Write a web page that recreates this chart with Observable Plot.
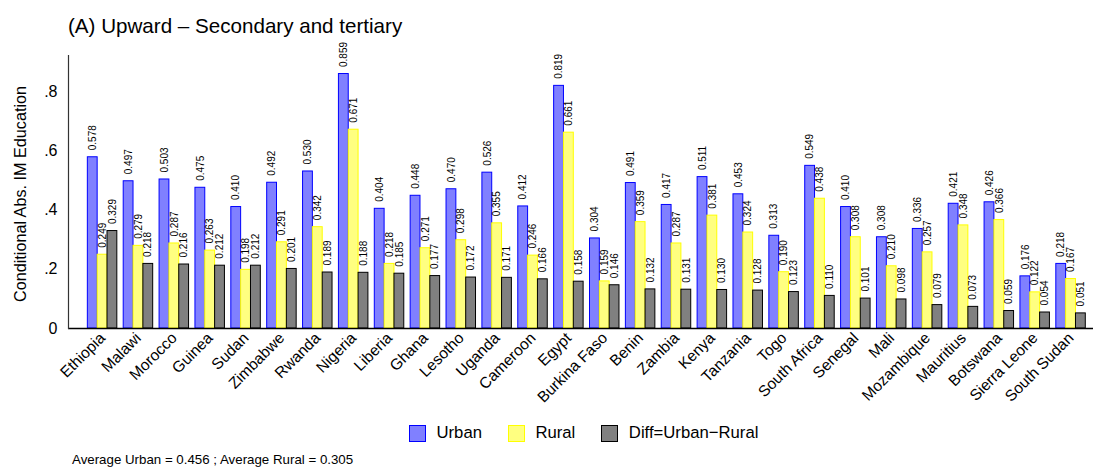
<!DOCTYPE html>
<html>
<head>
<meta charset="utf-8">
<script src="https://cdn.jsdelivr.net/npm/d3@7"></script>
<script src="https://cdn.jsdelivr.net/npm/@observablehq/plot@0.6"></script>
<style>
  body { margin: 0; background: white; font-family: "Liberation Sans", Arial, Helvetica, sans-serif; }
  #wrap { position: relative; width: 1094px; height: 468px; overflow: hidden; }
  #chart svg { overflow: visible; }
  #title { position: absolute; left: 68px; top: 14px; font-size: 20.6px; line-height: 24px; color: #000; }
  #legend { position: absolute; left: 409px; top: 423px; height: 20px; display: flex; align-items: center; font-size: 16.7px; }
  .sw { width: 17px; height: 17px; box-sizing: border-box; border: 1.5px solid; margin-right: 10.5px; }
  .item { display: flex; align-items: center; margin-right: 26px; }
  #note { position: absolute; left: 72px; top: 452px; font-size: 13.3px; line-height: 15px; }
</style>
</head>
<body>
<div id="wrap">
  <div id="chart"></div>
  <div id="title"></div>
  <div id="legend"></div>
  <div id="note"></div>
</div>
<script>
const countries = ["Ethiopia","Malawi","Morocco","Guinea","Sudan","Zimbabwe","Rwanda","Nigeria","Liberia","Ghana","Lesotho","Uganda","Cameroon","Egypt","Burkina Faso","Benin","Zambia","Kenya","Tanzania","Togo","South Africa","Senegal","Mali","Mozambique","Mauritius","Botswana","Sierra Leone","South Sudan"];
const urban = [0.578,0.497,0.503,0.475,0.410,0.492,0.530,0.859,0.404,0.448,0.470,0.526,0.412,0.819,0.304,0.491,0.417,0.511,0.453,0.313,0.549,0.410,0.308,0.336,0.421,0.426,0.176,0.218];
const rural = [0.249,0.279,0.287,0.263,0.198,0.291,0.342,0.671,0.218,0.271,0.298,0.355,0.246,0.661,0.159,0.359,0.287,0.381,0.324,0.190,0.438,0.308,0.210,0.257,0.348,0.366,0.122,0.167];
const diff = [0.329,0.218,0.216,0.212,0.212,0.201,0.189,0.188,0.185,0.177,0.172,0.171,0.166,0.158,0.146,0.132,0.131,0.130,0.128,0.123,0.110,0.101,0.098,0.079,0.073,0.059,0.054,0.051];
const seriesNames = ["Urban","Rural","Diff=Urban\u2212Rural"];
const seriesFill = ["#8080ff","#ffff80","#808080"];
const seriesStroke = ["#0000ff","#ffff00","#000000"];
const yTicks = [0, 0.2, 0.4, 0.6, 0.8];
const titleText = "(A) Upward \u2013 Secondary and tertiary";
const yLabel = "Conditional Abs. IM Education";
const noteText = "Average Urban = 0.456 ; Average Rural = 0.305";

const seriesValues = [urban, rural, diff];
const bandW = 29.5;
const third = bandW / 3;

const marks = [];
seriesNames.forEach((s, i) => {
  const rows = countries.map((c, j) => ({country: c, value: seriesValues[i][j]}));
  marks.push(Plot.barY(rows, {
    x: "country", y: "value", fill: seriesFill[i], stroke: seriesStroke[i], strokeWidth: 1,
    insetLeft: i * third, insetRight: (2 - i) * third
  }));
  marks.push(Plot.text(rows, {
    x: "country", y: "value", text: d => d3.format(".3f")(d.value),
    rotate: -90, textAnchor: "start", dx: (i - 1) * third, dy: -7, fontSize: 10, fill: "#000"
  }));
});

const chart = Plot.plot({
  width: 1094,
  height: 416,
  marginTop: 55,
  marginBottom: 88,
  marginLeft: 68,
  marginRight: 1,
  style: {fontFamily: "'Liberation Sans', Arial, Helvetica, sans-serif", color: "#000", background: "transparent"},
  x: {type: "band", domain: countries, paddingInner: 0.178, paddingOuter: 0.377, align: 0.715, round: false},
  y: {domain: [0, 0.9215]},
  marks: [
    ...marks,
    Plot.ruleY([0], {stroke: "#000", strokeWidth: 1.5}),
    Plot.frame({anchor: "left", stroke: "#333", strokeWidth: 1.2}),
    Plot.axisX({tickRotate: -45, tickSize: 0, tickPadding: 7, fontSize: 15.5, label: null}),
    Plot.axisY({ticks: yTicks, tickSize: 0, tickPadding: 11, fontSize: 16, label: null,
      tickFormat: d => d === 0 ? "0" : d3.format(".1f")(d).replace(/^0/, "")}),
    Plot.text([yLabel], {text: d => d, frameAnchor: "left", textAnchor: "middle", rotate: -90, dx: -48, dy: 2, fontSize: 16.2})
  ]
});
document.getElementById("chart").appendChild(chart);
document.getElementById("title").textContent = titleText;
document.getElementById("note").textContent = noteText;
const leg = document.getElementById("legend");
seriesNames.forEach((s, i) => {
  const it = document.createElement("div");
  it.className = "item";
  const sw = document.createElement("div");
  sw.className = "sw";
  sw.style.background = seriesFill[i];
  sw.style.borderColor = seriesStroke[i];
  const t = document.createElement("span");
  t.textContent = s;
  it.appendChild(sw); it.appendChild(t);
  leg.appendChild(it);
});
</script>
</body>
</html>
